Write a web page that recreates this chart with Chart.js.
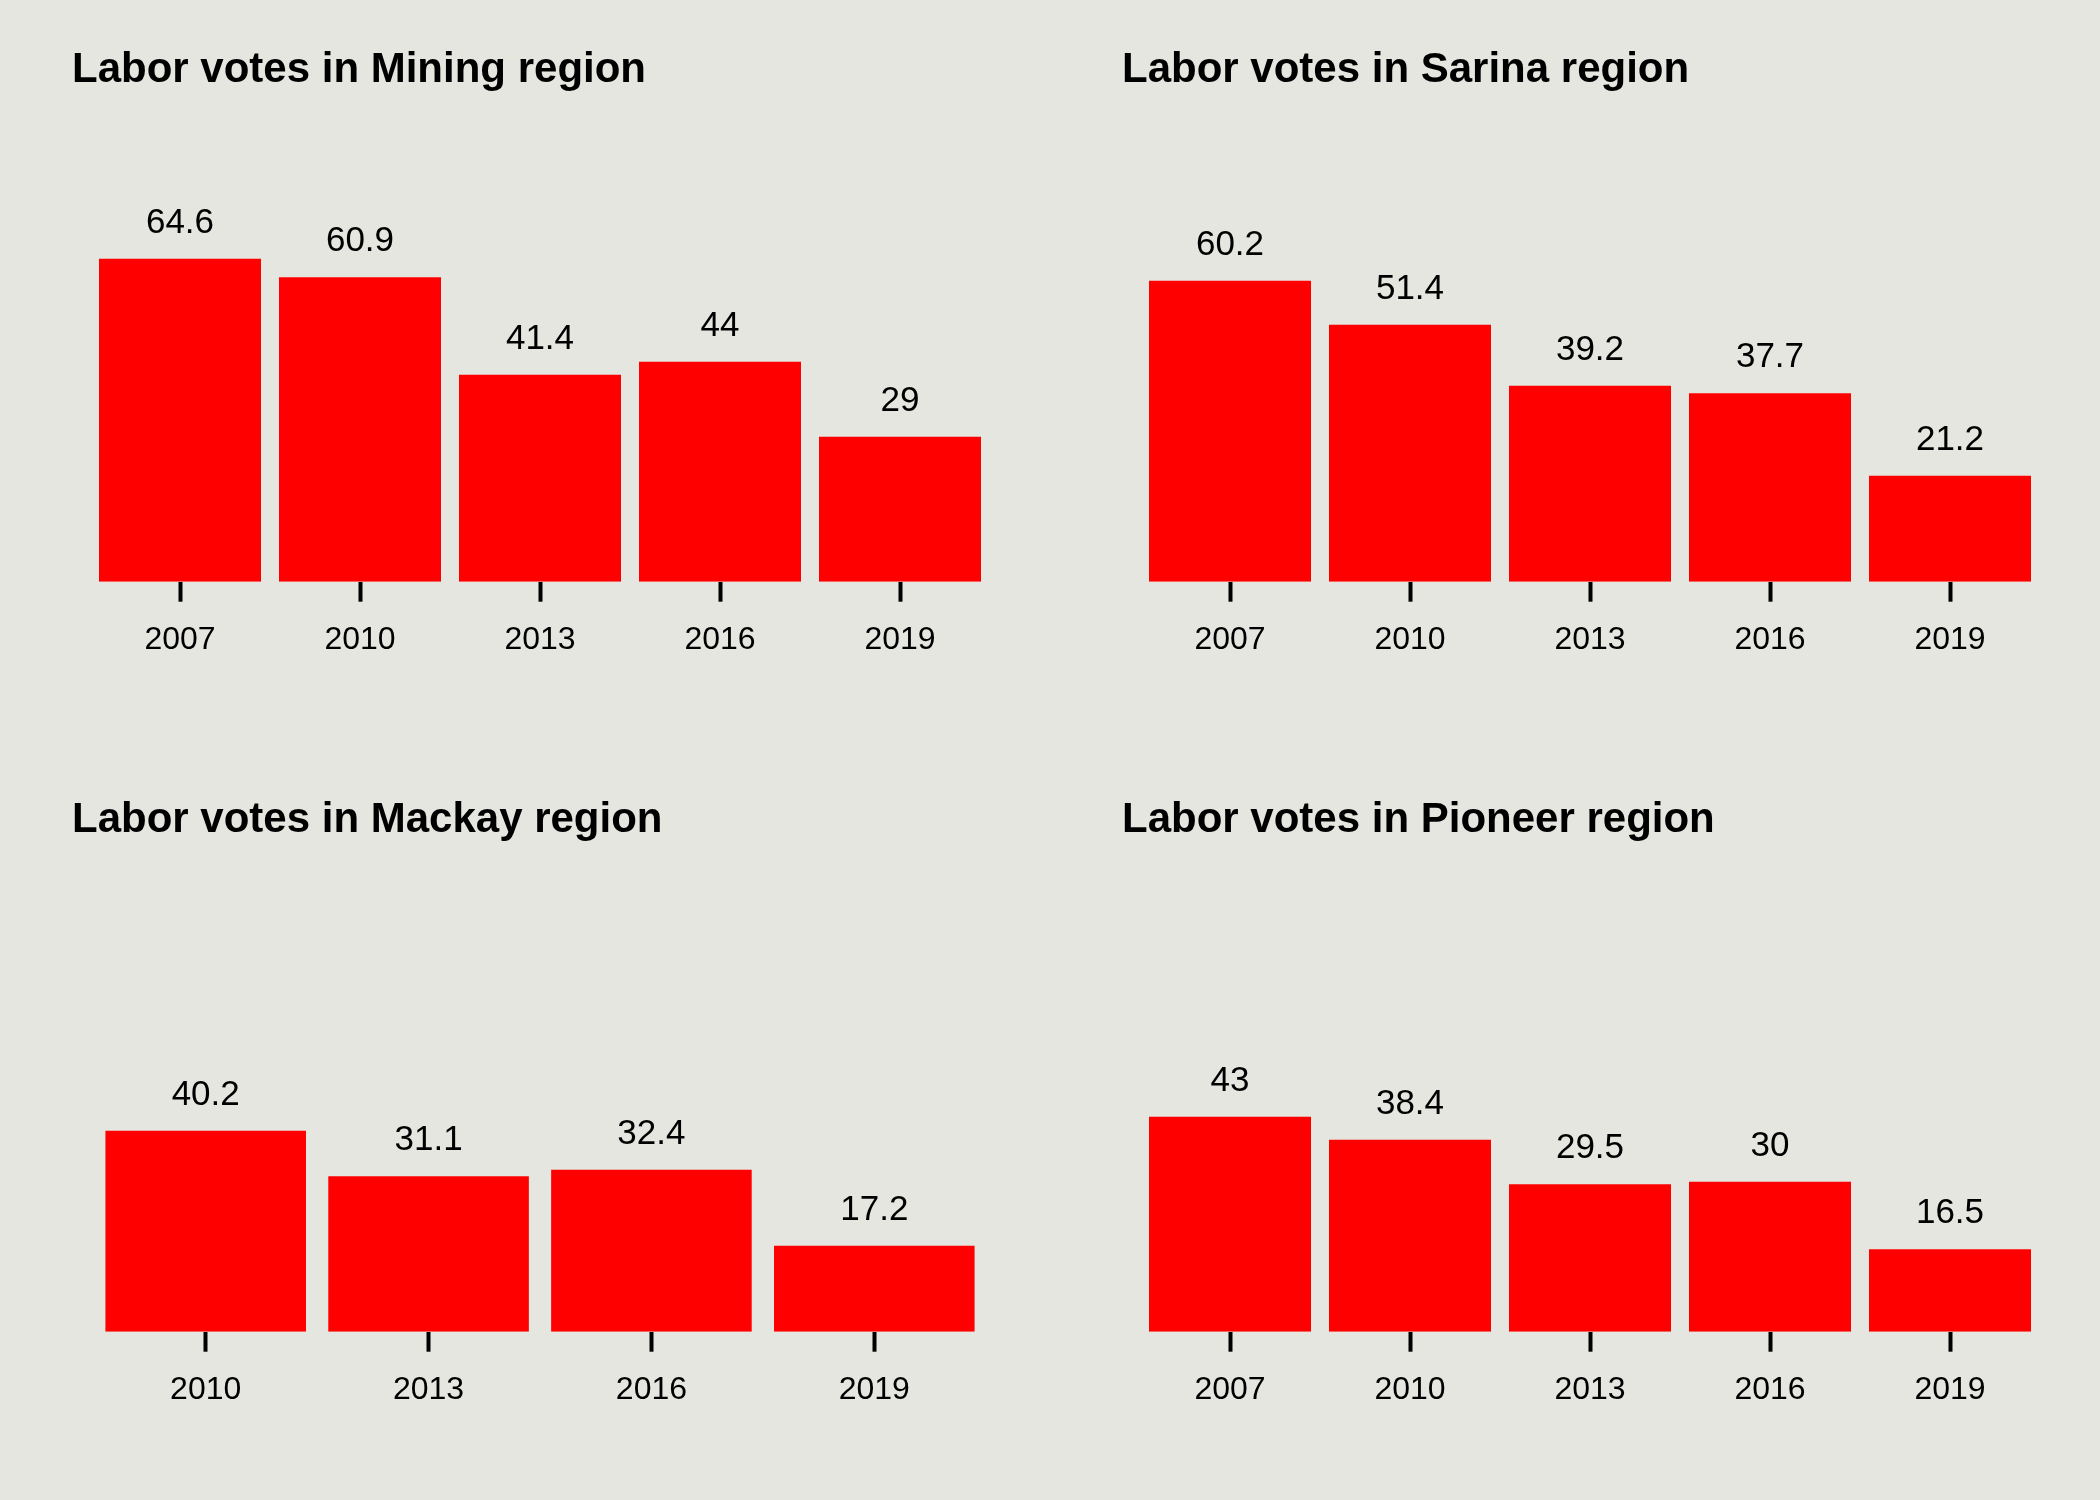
<!DOCTYPE html>
<html>
<head>
<meta charset="utf-8">
<script src="https://cdn.jsdelivr.net/npm/chart.js@4.4.1/dist/chart.umd.min.js"></script>
<style>
  html, body { margin: 0; padding: 0; background: #e5e6e0; }
  #wrap { position: relative; width: 2100px; height: 1500px; background: #e5e6e0; }
  canvas { position: absolute; }
</style>
</head>
<body>
<div id="wrap">
  <canvas id="c1" width="1050" height="750" style="left:0;top:0"></canvas>
  <canvas id="c2" width="1050" height="750" style="left:1050px;top:0"></canvas>
  <canvas id="c3" width="1050" height="750" style="left:0;top:750px"></canvas>
  <canvas id="c4" width="1050" height="750" style="left:1050px;top:750px"></canvas>
</div>
<script>
// ---- Data ----
const miningYears = ["2007", "2010", "2013", "2016", "2019"];
const miningVotes = [64.6, 60.9, 41.4, 44, 29];

const sarinaYears = ["2007", "2010", "2013", "2016", "2019"];
const sarinaVotes = [60.2, 51.4, 39.2, 37.7, 21.2];

const mackayYears = ["2010", "2013", "2016", "2019"];
const mackayVotes = [40.2, 31.1, 32.4, 17.2];

const pioneerYears = ["2007", "2010", "2013", "2016", "2019"];
const pioneerVotes = [43, 38.4, 29.5, 30, 16.5];

const titles = [
  "Labor votes in Mining region",
  "Labor votes in Sarina region",
  "Labor votes in Mackay region",
  "Labor votes in Pioneer region"
];

// ---- Styling ----
const FONT = "'Liberation Sans', Arial, Helvetica, sans-serif";
Chart.defaults.font.family = FONT;
Chart.defaults.color = "#000";

const valueLabels = {
  id: "valueLabels",
  afterDatasetsDraw(chart) {
    const ctx = chart.ctx;
    const meta = chart.getDatasetMeta(0);
    const ds = chart.data.datasets[0];
    ctx.save();
    ctx.font = "35px " + FONT;
    ctx.fillStyle = "#000";
    ctx.textAlign = "center";
    ctx.textBaseline = "alphabetic";
    meta.data.forEach((bar, i) => {
      ctx.fillText(String(ds.data[i].y), bar.x, bar.y - 26);
    });
    ctx.restore();
  }
};

function makeChart(id, title, cats, vals) {
  const n = cats.length;
  new Chart(document.getElementById(id), {
    type: "bar",
    data: {
      datasets: [{
        data: vals.map((v, i) => ({ x: i + 1, y: v })),
        backgroundColor: "#ff0000",
        borderWidth: 0,
        barPercentage: 0.9,
        categoryPercentage: 1.0
      }]
    },
    options: {
      responsive: false,
      animation: false,
      devicePixelRatio: 1,
      layout: { padding: { left: 72, right: 42, top: 0, bottom: 68.3 } },
      plugins: {
        legend: { display: false },
        tooltip: { enabled: false },
        title: {
          display: true,
          text: title,
          align: "start",
          color: "#000",
          font: { size: 42, weight: "bold", family: FONT },
          padding: { top: 45, bottom: 36.3 }
        }
      },
      scales: {
        x: {
          type: "linear",
          offset: false,
          min: 0.4,
          max: n + 0.6,
          afterBuildTicks: (scale) => {
            scale.ticks = cats.map((c, i) => ({ value: i + 1 }));
          },
          afterFit: (scale) => { scale.height = 100; },
          grid: {
            display: true,
            offset: false,
            drawOnChartArea: false,
            drawTicks: true,
            tickLength: 20,
            tickWidth: 4,
            tickColor: "#000"
          },
          border: { display: false },
          ticks: {
            autoSkip: false,
            maxRotation: 0,
            padding: 19,
            color: "#000",
            font: { size: 32, family: FONT },
            callback: (v) => cats[Math.round(v) - 1]
          }
        },
        y: {
          display: false,
          min: 0,
          max: 90
        }
      }
    },
    plugins: [valueLabels]
  });
}

makeChart("c1", titles[0], miningYears, miningVotes);
makeChart("c2", titles[1], sarinaYears, sarinaVotes);
makeChart("c3", titles[2], mackayYears, mackayVotes);
makeChart("c4", titles[3], pioneerYears, pioneerVotes);
</script>
</body>
</html>
